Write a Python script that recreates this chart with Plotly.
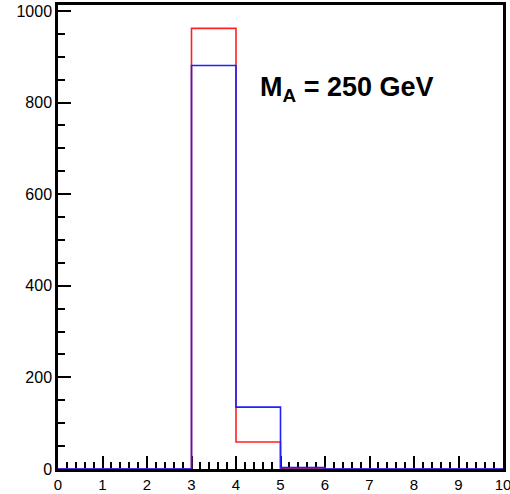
import plotly.graph_objects as go

# Histogram: 10 unit-width bins from 0 to 10
bin_edges = [0, 1, 2, 3, 4, 5, 6, 7, 8, 9, 10]
red_counts = [0, 0, 0, 962, 59, 2, 0, 0, 0, 0]
blue_counts = [0, 0, 0, 881, 135, 3, 0, 0, 0, 0]
y_tick_vals = [0, 200, 400, 600, 800, 1000]
x_tick_vals = [0, 1, 2, 3, 4, 5, 6, 7, 8, 9, 10]
label_text = "<b>M<sub>A</sub> = 250 GeV</b>"


def step_outline(edges, counts):
    xs = list(edges)
    ys = list(counts) + [counts[-1]]
    return xs, ys


fig = go.Figure()
for counts, color in [(red_counts, "#ff2020"), (blue_counts, "#2020ff")]:
    xs, ys = step_outline(bin_edges, counts)
    fig.add_trace(go.Scatter(
        x=xs, y=ys, mode="lines", line=dict(shape="hv", color=color, width=1.6),
        showlegend=False, hoverinfo="skip", cliponaxis=False,
    ))

fig.add_annotation(
    x=4.49, y=830, xref="x", yref="y", text=label_text, showarrow=False,
    xanchor="left", yanchor="middle",
    font=dict(family="Liberation Sans, Arial", size=27, color="black"),
)

axis_font = dict(family="Liberation Sans, Arial", color="black")
fig.update_layout(
    width=510, height=494,
    margin=dict(l=58, r=7, t=5, b=25, autoexpand=False),
    plot_bgcolor="white", paper_bgcolor="white",
    xaxis=dict(
        range=[0, 10], tickvals=x_tick_vals, ticks="inside", ticklen=13, tickwidth=2,
        tickcolor="black", showline=True, linecolor="black", linewidth=2.5, mirror=True,
        showgrid=False, zeroline=False, tickfont=dict(size=15, **axis_font),
        automargin=False, ticklabeloverflow="allow", layer="below traces",
        minor=dict(dtick=0.2, ticks="inside", ticklen=7, tickwidth=2, tickcolor="black", showgrid=False),
    ),
    yaxis=dict(
        range=[0, 1013], tickvals=y_tick_vals, ticks="inside", ticklen=13, tickwidth=2,
        tickcolor="black", showline=True, linecolor="black", linewidth=2.5, mirror=True,
        showgrid=False, zeroline=False, tickfont=dict(size=16, **axis_font),
        automargin=False, ticklabeloverflow="allow", layer="below traces",
        minor=dict(dtick=50, ticks="inside", ticklen=7, tickwidth=2, tickcolor="black", showgrid=False),
    ),
)

fig.write_html("out.html")
